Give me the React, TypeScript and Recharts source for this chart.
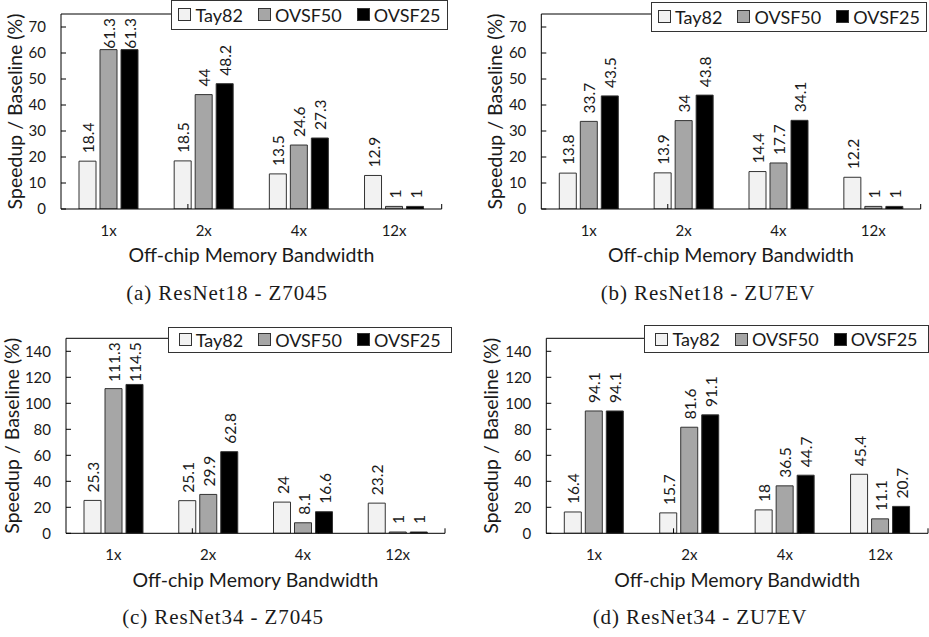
import React from 'react';
import { BarChart, Bar, XAxis, YAxis, ReferenceLine, Legend, LabelList, Label } from 'recharts';

const categories = ['1x', '2x', '4x', '12x'];
const seriesNames = ['Tay82', 'OVSF50', 'OVSF25'];

const r18Z7045Tay82 = [18.4, 18.5, 13.5, 12.9];
const r18Z7045Ovsf50 = [61.3, 44, 24.6, 1];
const r18Z7045Ovsf25 = [61.3, 48.2, 27.3, 1];

const r18ZU7EVTay82 = [13.8, 13.9, 14.4, 12.2];
const r18ZU7EVOvsf50 = [33.7, 34, 17.7, 1];
const r18ZU7EVOvsf25 = [43.5, 43.8, 34.1, 1];

const r34Z7045Tay82 = [25.3, 25.1, 24, 23.2];
const r34Z7045Ovsf50 = [111.3, 29.9, 8.1, 1];
const r34Z7045Ovsf25 = [114.5, 62.8, 16.6, 1];

const r34ZU7EVTay82 = [16.4, 15.7, 18, 45.4];
const r34ZU7EVOvsf50 = [94.1, 81.6, 36.5, 11.1];
const r34ZU7EVOvsf25 = [94.1, 91.1, 44.7, 20.7];

const ticks75 = [0, 10, 20, 30, 40, 50, 60, 70];
const ticks150 = [0, 20, 40, 60, 80, 100, 120, 140];
const boundaries = [1, 2, 3];

const captions = ['(a) ResNet18 - Z7045', '(b) ResNet18 - ZU7EV', '(c) ResNet34 - Z7045', '(d) ResNet34 - ZU7EV'];

const FILLS = ['#f2f2f2', '#a6a6a6', '#000000'];
const SANS = 'Lato, "Open Sans", sans-serif';
const TEXT = '#1a1a1a';

type Box = { left: number; top: number; width: number; height: number };

type PanelProps = {
  tay: number[];
  o50: number[];
  o25: number[];
  caption: string;
  box: Box;
  mTop: number;
  mRight: number;
  yWidth: number;
  xHeight: number;
  yMax: number;
  yTicks: number[];
  legend: Box;
  yLabelOffset: number;
  xLabelOffset: number;
  captionCenter: number;
  captionTop: number;
};

const LABEL_FS = 15.5;

const makeRotLabel = (plotTop: number) => (props: any) => {
  const { x, y, width, value } = props;
  if (value === undefined || value === null) return null;
  const str = String(value);
  const cx = Number(x) + Number(width) / 2;
  const fs = LABEL_FS;
  const digits = str.replace(/[^0-9]/g, '').length;
  const dots = str.length - digits;
  const estLen = fs * (digits * 0.58 + dots * 0.25);
  let ty = Number(y) - 8;
  let anchor: 'start' | 'end' = 'start';
  if (ty - estLen < plotTop + 4) {
    ty = plotTop + 4;
    anchor = 'end';
  }
  return (
    <text
      x={cx}
      y={ty}
      dy={fs * 0.36 + 1}
      transform={`rotate(-90 ${cx} ${ty})`}
      textAnchor={anchor}
      fontFamily={SANS}
      fontSize={fs}
      fill={TEXT}
    >
      {str}
    </text>
  );
};

const LegendBox = () => (
  <div
    style={{
      width: '100%',
      height: '100%',
      boxSizing: 'border-box',
      border: '1px solid #333',
      background: '#fff',
      display: 'flex',
      alignItems: 'center',
      justifyContent: 'center',
      gap: 15,
      fontFamily: SANS,
      fontSize: 18,
      color: TEXT,
      lineHeight: '20px',
    }}
  >
    {seriesNames.map((n, i) => (
      <div key={n} style={{ display: 'flex', alignItems: 'center' }}>
        <span
          style={{
            display: 'inline-block',
            width: 13,
            height: 13,
            boxSizing: 'border-box',
            border: '1px solid #333',
            background: FILLS[i],
            marginRight: 4,
          }}
        />
        <span>{n}</span>
      </div>
    ))}
  </div>
);

const Panel = (p: PanelProps) => {
  const data = categories.map((c, i) => ({
    cat: c,
    Tay82: p.tay[i],
    OVSF50: p.o50[i],
    OVSF25: p.o25[i],
  }));
  const plotH = p.box.height - p.mTop - p.xHeight;
  const tickUnits = (p.yMax * 5) / plotH;
  const RotLabel = makeRotLabel(p.mTop);
  return (
    <>
      <div style={{ position: 'absolute', left: p.box.left, top: p.box.top }}>
        <BarChart
          width={p.box.width}
          height={p.box.height}
          data={data}
          margin={{ top: p.mTop, right: p.mRight, bottom: 0, left: 0 }}
          barSize={17}
          barGap={4}
        >
          <XAxis
            dataKey="cat"
            height={p.xHeight}
            tickLine={false}
            tickSize={6}
            tickMargin={10}
            axisLine={{ stroke: '#000', strokeWidth: 1 }}
            tick={{ fontFamily: SANS, fontSize: 15, fill: TEXT }}
            interval={0}
          >
            <Label
              value="Off-chip Memory Bandwidth"
              position="insideBottom"
              offset={p.xLabelOffset}
              style={{ fontFamily: SANS, fontSize: 19.5, fill: TEXT }}
            />
          </XAxis>
          <XAxis xAxisId="num" type="number" domain={[0, 4]} hide />
          <YAxis
            type="number"
            domain={[0, p.yMax]}
            ticks={p.yTicks}
            interval={0}
            width={p.yWidth}
            tickSize={-5}
            tickMargin={20}
            axisLine={{ stroke: '#000', strokeWidth: 1 }}
            tickLine={{ stroke: '#000', strokeWidth: 1 }}
            tick={{ fontFamily: SANS, fontSize: 15, fill: TEXT }}
            allowDataOverflow
          >
            <Label
              value="Speedup / Baseline (%)"
              angle={-90}
              position="insideLeft"
              offset={p.yLabelOffset}
              style={{ textAnchor: 'middle', fontFamily: SANS, fontSize: 19.5, fill: TEXT }}
            />
          </YAxis>
          <ReferenceLine y={p.yMax} stroke="#000" strokeWidth={1} />
          <ReferenceLine x={4} xAxisId="num" stroke="#000" strokeWidth={1} />
          {boundaries.map((b) => (
            <ReferenceLine
              key={b}
              xAxisId="num"
              segment={[
                { x: b, y: 0 },
                { x: b, y: tickUnits },
              ]}
              stroke="#000"
              strokeWidth={1}
            />
          ))}
          {seriesNames.map((n, i) => (
            <Bar
              key={n}
              dataKey={n}
              fill={FILLS[i]}
              stroke="#333"
              strokeWidth={1}
              isAnimationActive={false}
            >
              <LabelList dataKey={n} content={RotLabel} />
            </Bar>
          ))}
          <Legend
            layout="horizontal"
            verticalAlign="middle"
            align="center"
            content={() => <LegendBox />}
            wrapperStyle={{
              position: 'absolute',
              left: p.legend.left,
              top: p.legend.top,
              width: p.legend.width,
              height: p.legend.height,
              margin: 0,
              padding: 0,
            }}
          />
        </BarChart>
      </div>
      <div
        style={{
          position: 'absolute',
          left: p.captionCenter - 150,
          width: 300,
          top: p.captionTop,
          textAlign: 'center',
          fontFamily: '"Liberation Serif", serif',
          fontSize: 21,
          lineHeight: '21px',
          letterSpacing: 0.9,
          color: TEXT,
          whiteSpace: 'nowrap',
        }}
      >
        {p.caption}
      </div>
    </>
  );
};

export default function App() {
  return (
    <div
      style={{
        position: 'absolute',
        left: 0,
        top: 0,
        width: 929,
        height: 637,
        background: '#fff',
        overflow: 'hidden',
      }}
    >
      <Panel
        tay={r18Z7045Tay82}
        o50={r18Z7045Ovsf50}
        o25={r18Z7045Ovsf25}
        caption={captions[0]}
        box={{ left: 0, top: 0, width: 464, height: 270 }}
        mTop={14}
        mRight={22.3}
        yWidth={61}
        xHeight={61}
        yMax={75}
        yTicks={ticks75}
        legend={{ left: 171, top: 0, width: 277, height: 29.5 }}
        yLabelOffset={15}
        xLabelOffset={8}
        captionCenter={227}
        captionTop={283.4}
      />
      <Panel
        tay={r18ZU7EVTay82}
        o50={r18ZU7EVOvsf50}
        o25={r18ZU7EVOvsf25}
        caption={captions[1]}
        box={{ left: 480, top: 0, width: 449, height: 270 }}
        mTop={14}
        mRight={8.3}
        yWidth={61.3}
        xHeight={61}
        yMax={75}
        yTicks={ticks75}
        legend={{ left: 170.7, top: 1.7, width: 276.6, height: 30 }}
        yLabelOffset={15}
        xLabelOffset={8}
        captionCenter={708}
        captionTop={283.4}
      />
      <Panel
        tay={r34Z7045Tay82}
        o50={r34Z7045Ovsf50}
        o25={r34Z7045Ovsf25}
        caption={captions[2]}
        box={{ left: 0, top: 320, width: 464, height: 275 }}
        mTop={18.3}
        mRight={19}
        yWidth={66}
        xHeight={61.7}
        yMax={150}
        yTicks={ticks150}
        legend={{ left: 167.7, top: 6.7, width: 284, height: 26.6 }}
        yLabelOffset={11.7}
        xLabelOffset={8}
        captionCenter={223}
        captionTop={607.4}
      />
      <Panel
        tay={r34ZU7EVTay82}
        o50={r34ZU7EVOvsf50}
        o25={r34ZU7EVOvsf25}
        caption={captions[3]}
        box={{ left: 480, top: 320, width: 449, height: 275 }}
        mTop={18.3}
        mRight={1}
        yWidth={66.3}
        xHeight={61.7}
        yMax={150}
        yTicks={ticks150}
        legend={{ left: 164, top: 5, width: 285, height: 28 }}
        yLabelOffset={11.5}
        xLabelOffset={8}
        captionCenter={700}
        captionTop={607.4}
      />
    </div>
  );
}
